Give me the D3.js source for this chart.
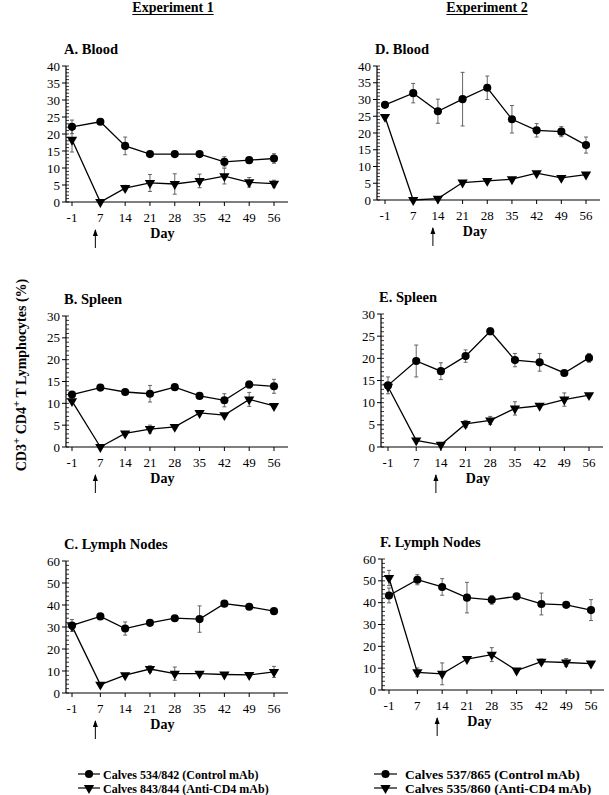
<!DOCTYPE html>
<html><head><meta charset="utf-8">
<script src="https://cdn.jsdelivr.net/npm/d3@7"></script>
<style>body{margin:0;background:#fff}svg{display:block}</style>
</head><body>
<svg id="c" width="609" height="795"></svg>
<script>
// ---- DATA ----
const days = [-1, 7, 14, 21, 28, 35, 42, 49, 56];
const dayTicks = ["-1", "7", "14", "21", "28", "35", "42", "49", "56"];

const bloodE1Control = [22.1, 23.6, 16.5, 14.1, 14.1, 14.1, 11.8, 12.3, 12.8];
const bloodE1ControlErr = [2.0, 0, 2.6, 0, 0, 0, 1.5, 0, 1.4];
const bloodE1Anti = [18.3, 0, 4.1, 5.6, 5.3, 6.2, 7.6, 5.8, 5.4];
const bloodE1AntiErr = [3.6, 0, 0.8, 2.5, 3.0, 2.0, 2.3, 1.4, 1.0];

const spleenE1Control = [12.0, 13.6, 12.6, 12.2, 13.7, 11.7, 10.7, 14.3, 13.9];
const spleenE1ControlErr = [0, 0, 0, 1.9, 0, 0, 1.5, 0.8, 1.6];
const spleenE1Anti = [10.5, 0, 3.1, 4.1, 4.6, 7.8, 7.3, 10.9, 9.4];
const spleenE1AntiErr = [0, 0, 0, 0.9, 0, 0, 0, 1.6, 0];

const lymphE1Control = [30.7, 34.8, 29.3, 31.9, 34.0, 33.6, 40.6, 39.2, 37.2];
const lymphE1ControlErr = [2.7, 0, 3.0, 0, 0, 6.0, 0, 0, 0];
const lymphE1Anti = [30.4, 3.8, 8.1, 10.9, 8.8, 8.8, 8.4, 8.2, 9.6];
const lymphE1AntiErr = [0, 0, 0, 1.5, 3.0, 0, 0, 0, 2.5];

const bloodE2Control = [28.4, 31.9, 26.5, 30.1, 33.5, 24.1, 20.8, 20.4, 16.4];
const bloodE2ControlErr = [0.7, 2.9, 3.6, 8.0, 3.5, 4.1, 2.0, 1.5, 2.4];
const bloodE2Anti = [24.8, 0, 0.4, 5.2, 5.7, 6.2, 8.0, 6.6, 7.6];
const bloodE2AntiErr = [0, 0, 0, 0, 0, 0, 0, 0, 0];

const spleenE2Control = [13.9, 19.4, 17.1, 20.5, 26.1, 19.6, 19.1, 16.7, 20.1];
const spleenE2ControlErr = [1.9, 3.6, 1.9, 1.4, 0.8, 1.5, 2.0, 0, 1.0];
const spleenE2Anti = [13.6, 1.5, 0.5, 5.2, 6.0, 8.7, 9.3, 10.7, 11.7];
const spleenE2AntiErr = [0, 0, 0, 0.8, 0.9, 1.5, 0, 1.5, 0];

const lymphE2Control = [43.3, 50.5, 47.2, 42.3, 41.3, 42.9, 39.4, 39.0, 36.6];
const lymphE2ControlErr = [3.4, 2.3, 3.8, 7.0, 2.0, 0, 5.0, 0, 4.8];
const lymphE2Anti = [51.3, 8.1, 7.4, 14.2, 16.2, 8.9, 13.0, 12.6, 12.1];
const lymphE2AntiErr = [3.5, 2.0, 5.0, 0, 3.2, 0, 1.2, 1.8, 0];

const panelTitles = ["A. Blood", "B. Spleen", "C. Lymph Nodes", "D. Blood", "E. Spleen", "F. Lymph Nodes"];
const experimentTitles = ["Experiment 1", "Experiment 2"];
const legendE1 = ["Calves 534/842 (Control mAb)", "Calves 843/844 (Anti-CD4 mAb)"];
const legendE2 = ["Calves 537/865 (Control mAb)", "Calves 535/860 (Anti-CD4 mAb)"];
const arrowDays = [7, 14]; // injection arrow, exp 1 / exp 2

// ---- LAYOUT ----
const svg = d3.select("#c");
const FONT = "'Liberation Serif','Times New Roman',serif";

const panels = [
  {title: panelTitles[0], ctl: bloodE1Control, ctlE: bloodE1ControlErr, anti: bloodE1Anti, antiE: bloodE1AntiErr,
   ax: 66, x0: 72, x1: 274, xe: 288, yTop: 66, yBot: 202, yMax: 40, major: 5, minor: 1, arrow: arrowDays[0]},
  {title: panelTitles[1], ctl: spleenE1Control, ctlE: spleenE1ControlErr, anti: spleenE1Anti, antiE: spleenE1AntiErr,
   ax: 66, x0: 72, x1: 274, xe: 288, yTop: 316, yBot: 447, yMax: 30, major: 5, minor: 1, arrow: arrowDays[0]},
  {title: panelTitles[2], ctl: lymphE1Control, ctlE: lymphE1ControlErr, anti: lymphE1Anti, antiE: lymphE1AntiErr,
   ax: 66, x0: 72, x1: 274, xe: 288, yTop: 561, yBot: 693, yMax: 60, major: 10, minor: 2, arrow: arrowDays[0]},
  {title: panelTitles[3], ctl: bloodE2Control, ctlE: bloodE2ControlErr, anti: bloodE2Anti, antiE: bloodE2AntiErr,
   ax: 377, x0: 385, x1: 586, xe: 600, yTop: 66, yBot: 200, yMax: 40, major: 5, minor: 1, arrow: arrowDays[1]},
  {title: panelTitles[4], ctl: spleenE2Control, ctlE: spleenE2ControlErr, anti: spleenE2Anti, antiE: spleenE2AntiErr,
   ax: 381, x0: 388, x1: 589, xe: 603, yTop: 314, yBot: 447, yMax: 30, major: 5, minor: 1, arrow: arrowDays[1]},
  {title: panelTitles[5], ctl: lymphE2Control, ctlE: lymphE2ControlErr, anti: lymphE2Anti, antiE: lymphE2AntiErr,
   ax: 382, x0: 389, x1: 591, xe: 604, yTop: 559, yBot: 690, yMax: 60, major: 10, minor: 2, arrow: arrowDays[1]},
];

const circleSym = d3.symbol().type(d3.symbolCircle).size(52);
const triSym = d3.symbol().type(d3.symbolTriangle).size(46);

panels.forEach(p => {
  const x = d3.scaleLinear().domain([days[0], days[days.length - 1]]).range([p.x0, p.x1]);
  const y = d3.scaleLinear().domain([0, p.yMax]).range([p.yBot, p.yTop]);
  const g = svg.append("g");

  // title
  g.append("text").attr("x", p.ax - 2).attr("y", p.yTop - 12)
    .attr("font-family", FONT).attr("font-weight", "bold").attr("font-size", 14.5)
    .text(p.title);

  // x axis
  g.append("line").attr("x1", p.ax).attr("x2", p.xe).attr("y1", p.yBot).attr("y2", p.yBot)
    .attr("stroke", "#000").attr("stroke-width", 1.2);
  days.forEach((d, i) => {
    g.append("line").attr("x1", x(d)).attr("x2", x(d)).attr("y1", p.yBot).attr("y2", p.yBot + 4)
      .attr("stroke", "#000").attr("stroke-width", 1);
    g.append("text").attr("x", x(d)).attr("y", p.yBot + 20).attr("text-anchor", "middle")
      .attr("font-family", FONT).attr("font-size", 13).text(dayTicks[i]);
  });
  g.append("text").attr("x", x(24.5)).attr("y", p.yBot + 36).attr("text-anchor", "middle")
    .attr("font-family", FONT).attr("font-weight", "bold").attr("font-size", 14).text("Day");

  // y axis
  g.append("line").attr("x1", p.ax).attr("x2", p.ax).attr("y1", p.yBot).attr("y2", p.yTop)
    .attr("stroke", "#000").attr("stroke-width", 1.2);
  d3.range(0, p.yMax + 0.001, p.minor).forEach(v => {
    g.append("line").attr("x1", p.ax).attr("x2", p.ax + 3).attr("y1", y(v)).attr("y2", y(v))
      .attr("stroke", "#000").attr("stroke-width", 0.8);
  });
  d3.range(0, p.yMax + 0.001, p.major).forEach(v => {
    g.append("line").attr("x1", p.ax - 4).attr("x2", p.ax).attr("y1", y(v)).attr("y2", y(v))
      .attr("stroke", "#000").attr("stroke-width", 1);
    g.append("text").attr("x", p.ax - 6).attr("y", y(v) + 4.5).attr("text-anchor", "end")
      .attr("font-family", FONT).attr("font-size", 13).text(v);
  });

  // error bars
  const drawErr = (vals, errs) => {
    vals.forEach((v, i) => {
      const e = errs[i];
      if (!e) return;
      const cx = x(days[i]);
      const lo = y(Math.max(0, v - e)), hi = y(v + e);
      g.append("line").attr("x1", cx).attr("x2", cx).attr("y1", lo).attr("y2", hi)
        .attr("stroke", "#555").attr("stroke-width", 0.9);
      [lo, hi].forEach(yy => g.append("line").attr("x1", cx - 2).attr("x2", cx + 2)
        .attr("y1", yy).attr("y2", yy).attr("stroke", "#555").attr("stroke-width", 0.9));
    });
  };
  drawErr(p.ctl, p.ctlE);
  drawErr(p.anti, p.antiE);

  const line = d3.line().x((d, i) => x(days[i])).y(d => y(d));
  [p.ctl, p.anti].forEach(s => g.append("path").attr("d", line(s))
    .attr("fill", "none").attr("stroke", "#000").attr("stroke-width", 1.3));

  p.ctl.forEach((v, i) => g.append("path").attr("d", circleSym())
    .attr("transform", `translate(${x(days[i])},${y(v)})`).attr("fill", "#000"));
  p.anti.forEach((v, i) => g.append("path").attr("d", triSym())
    .attr("transform", `translate(${x(days[i])},${y(v)}) rotate(180)`).attr("fill", "#000"));

  // arrow
  const axx = x(p.arrow) - 5;
  const ay0 = p.yBot + 27, ay1 = p.yBot + 46;
  g.append("line").attr("x1", axx).attr("x2", axx).attr("y1", ay0 + 1).attr("y2", ay1)
    .attr("stroke", "#000").attr("stroke-width", 1);
  g.append("path").attr("d", `M${axx},${ay0} L${axx - 2.5},${ay0 + 7} L${axx + 2.5},${ay0 + 7} Z`)
    .attr("fill", "#000");
});

// experiment headers
[[173, experimentTitles[0]], [487, experimentTitles[1]]].forEach(([cx, t]) => {
  const tx = svg.append("text").attr("x", cx).attr("y", 12).attr("text-anchor", "middle")
    .attr("font-family", FONT).attr("font-weight", "bold").attr("font-size", 14).text(t);
  const bb = tx.node().getBBox();
  svg.append("line").attr("x1", bb.x).attr("x2", bb.x + bb.width).attr("y1", 14.5).attr("y2", 14.5)
    .attr("stroke", "#000").attr("stroke-width", 1);
});

// y axis label
const yl = svg.append("text").attr("transform", "translate(26,375) rotate(-90)")
  .attr("text-anchor", "middle").attr("font-family", FONT).attr("font-weight", "bold").attr("font-size", 14);
yl.append("tspan").text("CD3");
yl.append("tspan").attr("dy", -6).attr("font-size", 11).text("+");
yl.append("tspan").attr("dy", 6).text(" CD4");
yl.append("tspan").attr("dy", -6).attr("font-size", 11).text("+");
yl.append("tspan").attr("dy", 6).text(" T Lymphocytes (%)");

// legends
[[legendE1, 78, 100, 103, 12], [legendE2, 374, 397, 405, 13.5]].forEach(([labels, lx0, lx1, tx, fs]) => {
  labels.forEach((lab, i) => {
    const yy = 774 + i * 14;
    svg.append("line").attr("x1", lx0).attr("x2", lx1).attr("y1", yy).attr("y2", yy)
      .attr("stroke", "#000").attr("stroke-width", 1.2);
    const sym = i === 0 ? circleSym : triSym;
    svg.append("path").attr("d", sym())
      .attr("transform", `translate(${(lx0 + lx1) / 2},${yy})` + (i === 1 ? " rotate(180)" : ""))
      .attr("fill", "#000");
    svg.append("text").attr("x", tx).attr("y", yy + 4.5)
      .attr("font-family", FONT).attr("font-weight", "bold").attr("font-size", fs).text(lab);
  });
});
</script>
</body></html>
